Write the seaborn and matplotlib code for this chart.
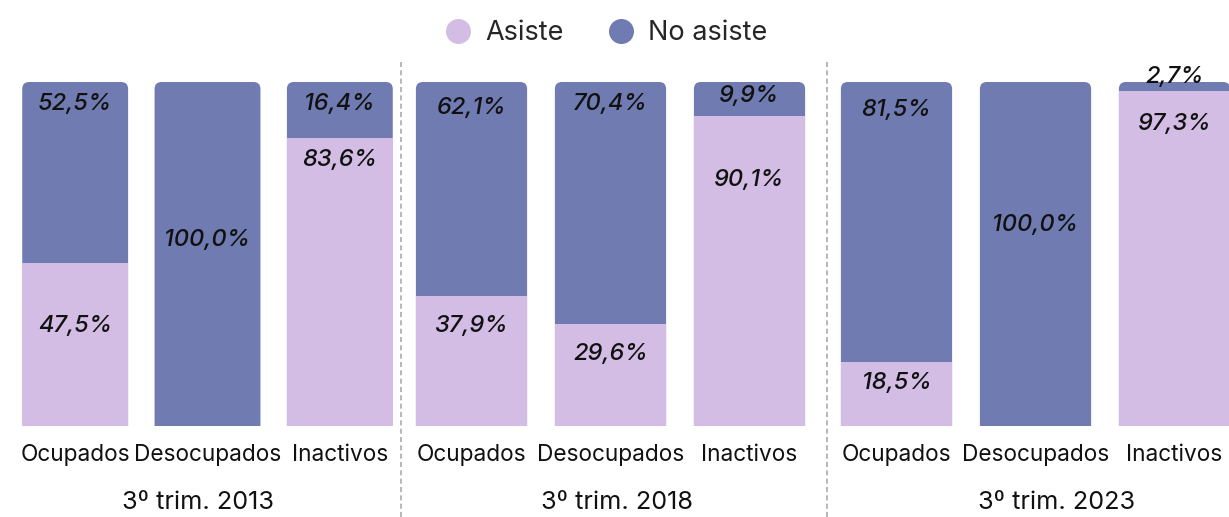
import pandas as pd
import matplotlib.pyplot as plt
import seaborn as sns
from matplotlib.patches import FancyBboxPatch
from matplotlib.lines import Line2D

periodos = ['3º trim. 2013', '3º trim. 2018', '3º trim. 2023']
categorias = ['Ocupados', 'Desocupados', 'Inactivos']
asiste = [[47.5, 0.0, 83.6],
          [37.9, 29.6, 90.1],
          [18.5, 0.0, 97.3]]
no_asiste = [[52.5, 100.0, 16.4],
             [62.1, 70.4, 9.9],
             [81.5, 100.0, 2.7]]

# altura de las etiquetas (en % del eje)
y_lab_asiste = [[29.1, None, 77.3], [29.1, 20.9, 71.5], [12.5, None, 87.8]]
y_lab_no_asiste = [[93.6, 54.1, 93.6], [92.4, 93.6, 95.9], [91.9, 58.4, 101.5]]

c_asiste = '#d4bde4'
c_no = '#6f7bb1'

sns.set_style('white')
plt.rcParams['font.family'] = ['Inter', 'DejaVu Sans']

W, H = 1229, 517
fig = plt.figure(figsize=(W / 100, H / 100), dpi=100)

# posiciones de los paneles en pixeles (izq, der)
paneles = [(9, 406), (402, 819), (827, 1244)]
x_grupo = [0.93, 1.05, 1.15]
top_px, bot_px = 82, 426

for i, periodo in enumerate(periodos):
    izq, der = paneles[i]
    ax = fig.add_axes([izq / W, 1 - bot_px / H, (der - izq) / W, (bot_px - top_px) / H])
    df = pd.DataFrame({'categoria': categorias,
                       'asiste': asiste[i],
                       'no_asiste': no_asiste[i]})
    df['total'] = df['asiste'] + df['no_asiste']

    sns.barplot(data=df, x='categoria', y='total', color=c_no, width=0.8,
                saturation=1, linewidth=0, ax=ax)
    n_dark = len(ax.patches)
    sns.barplot(data=df, x='categoria', y='asiste', color=c_asiste, width=0.8,
                saturation=1, linewidth=0, ax=ax)
    ax.set_ylim(0, 100)
    ax.set_xlim(-0.5, 2.5)

    # esquinas redondeadas arriba
    px_x = (der - izq) / 3
    px_y = (bot_px - top_px) / 100
    r = 7 / px_x
    aspect = (1 / px_y) / (1 / px_x)
    for p in list(ax.patches[:n_dark]):
        x, w, h = p.get_x(), p.get_width(), p.get_height()
        p.remove()
        ax.add_patch(FancyBboxPatch((x, -10), w, h + 10,
                                    boxstyle=f'round,pad=0,rounding_size={r}',
                                    mutation_aspect=aspect, facecolor=c_no,
                                    edgecolor='none', linewidth=0, zorder=0.5))
    for p in ax.patches:
        if not isinstance(p, FancyBboxPatch):
            p.set_zorder(2)
            p.set_edgecolor('none')

    for j in range(3):
        if no_asiste[i][j] > 0:
            ax.text(j, y_lab_no_asiste[i][j],
                    f'{no_asiste[i][j]:.1f}'.replace('.', ',') + '%',
                    ha='center', va='center', fontsize=17, style='italic',
                    fontweight='medium', color='#111111', zorder=5, clip_on=False)
        if asiste[i][j] > 0:
            ax.text(j, y_lab_asiste[i][j],
                    f'{asiste[i][j]:.1f}'.replace('.', ',') + '%',
                    ha='center', va='center', fontsize=17, style='italic',
                    fontweight='medium', color='#111111', zorder=5)

    ax.set_ylabel('')
    ax.set_xlabel('')
    ax.set_yticks([])
    ax.tick_params(axis='x', length=0, pad=13, labelsize=16.3, labelcolor='#111111')
    sns.despine(ax=ax, left=True, bottom=True)
    ax.text(x_grupo[i], -0.222, periodo, transform=ax.get_xaxis_transform(),
            ha='center', va='center', fontsize=18.2, color='#111111')

# separadores
for xs in [401, 827]:
    fig.add_artist(Line2D([xs / W, xs / W], [0, 1 - 62 / H], transform=fig.transFigure,
                          color='#aaaaaa', linestyle=(0, (3, 2)), linewidth=1.2))

handles = [Line2D([], [], marker='o', linestyle='none', markersize=18,
                  markerfacecolor=c_asiste, markeredgecolor='none'),
           Line2D([], [], marker='o', linestyle='none', markersize=18,
                  markerfacecolor=c_no, markeredgecolor='none')]
fig.legend(handles, ['Asiste', 'No asiste'], loc='center',
           bbox_to_anchor=(606 / W, 1 - 33 / H), ncol=2, frameon=False,
           fontsize=19.5, handlelength=1, handletextpad=0.5, columnspacing=1.6)

fig.savefig('out.png', dpi=100)
